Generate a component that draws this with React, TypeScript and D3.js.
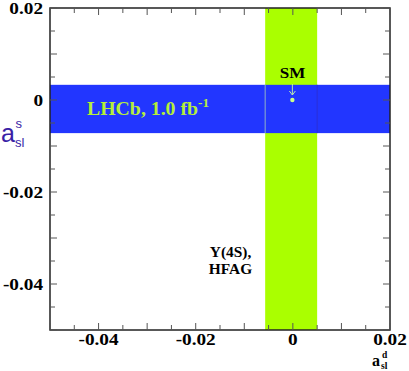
import React from "react";
import * as d3 from "d3";

const xDomain = [-0.05, 0.02];
const yDomain = [-0.05, 0.02];
const xTickLabels = [-0.04, -0.02, 0, 0.02];
const yTickLabels = [-0.04, -0.02, 0, 0.02];
const lhcbBandS = [-0.0072, 0.0033]; // a_sl^s measurement (LHCb)
const hfagBandD = [-0.0057, 0.005]; // a_sl^d (Y(4S), HFAG)
const smPoint = [-0.0001, 0.0];

const W = 409;
const H = 371;
const L = 50, R = 390, T = 8, B = 330;

const fmt = (v: number) => (Math.abs(v) < 1e-9 ? "0" : v.toFixed(2));

export default function App() {
  const x = d3.scaleLinear().domain(xDomain).range([L, R]);
  const y = d3.scaleLinear().domain(yDomain).range([B, T]);
  const xTicks = x.ticks(14);
  const yTicks = y.ticks(14);
  const isMajor = (v: number) => Math.abs(Math.round(v / 0.01) * 0.01 - v) < 1e-9;
  const serif = "'Liberation Serif', 'Times New Roman', serif";
  const sx = 1.1;

  const sm = { cx: x(smPoint[0]), cy: y(smPoint[1]) };

  return (
    <svg width={W} height={H} style={{ position: "absolute", left: 0, top: 0, background: "#fff" }}>
      {/* HFAG band */}
      <rect x={x(hfagBandD[0])} y={T} width={x(hfagBandD[1]) - x(hfagBandD[0])} height={B - T} fill="#aaff00" />
      {/* LHCb band */}
      <rect x={L} y={y(lhcbBandS[1])} width={R - L} height={y(lhcbBandS[0]) - y(lhcbBandS[1])} fill="#2236ff" />
      <line x1={x(hfagBandD[0])} x2={x(hfagBandD[0])} y1={y(lhcbBandS[1])} y2={y(lhcbBandS[0])} stroke="#8fb0c8" strokeWidth={1} />
      <line x1={x(hfagBandD[1])} x2={x(hfagBandD[1])} y1={y(lhcbBandS[1])} y2={y(lhcbBandS[0])} stroke="#2a30d8" strokeWidth={1} />

      {/* frame */}
      <rect x={L} y={T} width={R - L} height={B - T} fill="none" stroke="#222" strokeWidth={1.5} />
      {xTicks.map((v, i) => {
        const len = isMajor(v) ? 7 : 5;
        return (
          <g key={"xt" + i}>
            <line x1={x(v)} x2={x(v)} y1={B} y2={B - len} stroke="#555" strokeWidth={1} />
            <line x1={x(v)} x2={x(v)} y1={T} y2={T + len} stroke="#555" strokeWidth={1} />
          </g>
        );
      })}
      {yTicks.map((v, i) => {
        const len = isMajor(v) ? 7 : 5;
        return (
          <g key={"yt" + i}>
            <line x1={L} x2={L + len} y1={y(v)} y2={y(v)} stroke="#555" strokeWidth={1} />
            <line x1={R} x2={R - len} y1={y(v)} y2={y(v)} stroke="#555" strokeWidth={1} />
          </g>
        );
      })}

      {/* tick labels */}
      {xTickLabels.map((v, i) => (
        <text key={"xl" + i} transform={`translate(${x(v)},345) scale(${sx},1)`} textAnchor="middle"
          fontFamily={serif} fontWeight="bold" fontSize={17.5} fill="#000">{fmt(v)}</text>
      ))}
      {yTickLabels.map((v, i) => (
        <text key={"yl" + i} transform={`translate(43,${y(v) + 6}) scale(${sx},1)`} textAnchor="end"
          fontFamily={serif} fontWeight="bold" fontSize={17.5} fill="#000">{fmt(v)}</text>
      ))}

      {/* axis titles */}
      <g fontFamily={serif} fontWeight="bold" fill="#000">
        <text x={372} y={366} fontSize={16}>a</text>
        <text x={381} y={368.5} fontSize={9.5}>sl</text>
        <text x={382} y={358} fontSize={9.5}>d</text>
      </g>
      <g fontFamily="'Liberation Sans', Arial, sans-serif" fill="#3a1fa6">
        <text x={1} y={142} fontSize={25}>a</text>
        <text x={15} y={146.5} fontSize={13}>sl</text>
        <text x={15.5} y={128} fontSize={13}>s</text>
      </g>

      {/* LHCb label */}
      <text transform={`translate(87,115) scale(${sx},1)`} fontFamily={serif} fontWeight="bold" fontSize={18} fill="#b5ee3a">
        LHCb, 1.0 fb<tspan dy={-8} fontSize={12}>-1</tspan>
      </text>

      {/* HFAG label */}
      <g fontFamily={serif} fontWeight="bold" fontSize={14} fill="#000">
        <text transform={`translate(230.5,257) scale(${sx},1)`} textAnchor="middle">Y(4S),</text>
        <text transform={`translate(230.5,274) scale(${sx},1)`} textAnchor="middle">HFAG</text>
      </g>

      {/* SM */}
      <text transform={`translate(292.5,78) scale(${sx},1)`} textAnchor="middle" fontFamily={serif} fontWeight="bold" fontSize={15.5} fill="#000">SM</text>
      <g stroke="#b8e8b0" strokeWidth={1} fill="none">
        <line x1={sm.cx} x2={sm.cx} y1={84} y2={sm.cy - 5} />
        <polyline points={`${sm.cx - 3},${sm.cy - 9} ${sm.cx},${sm.cy - 5} ${sm.cx + 3},${sm.cy - 9}`} />
      </g>
      <circle cx={sm.cx} cy={sm.cy} r={2.2} fill="#ccff88" />
    </svg>
  );
}
